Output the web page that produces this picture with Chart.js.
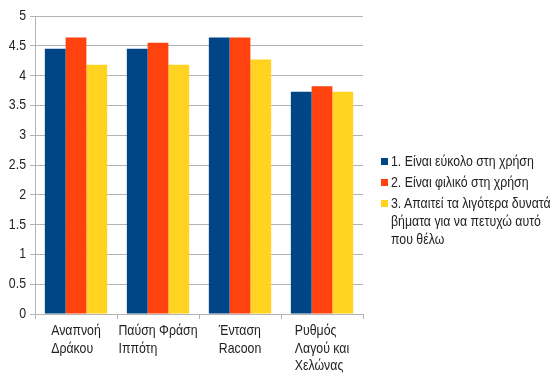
<!DOCTYPE html>
<html>
<head>
<meta charset="utf-8">
<script src="https://cdn.jsdelivr.net/npm/chart.js@4/dist/chart.umd.min.js"></script>
<style>
html,body{margin:0;padding:0;background:#fff;overflow:hidden;}
#wrap{position:relative;width:556px;height:376px;overflow:hidden;}
#legend{position:absolute;left:381px;top:152px;font-family:"Liberation Sans",Arial,sans-serif;font-size:14.5px;color:#222;white-space:nowrap;}
.item{position:relative;padding-left:10px;line-height:18px;margin-bottom:3px;}
.txt{display:inline-block;transform:scaleX(0.85);transform-origin:0 0;}
.sw{position:absolute;left:0;top:6px;width:7px;height:7px;}
</style>
</head>
<body>
<div id="wrap">
<canvas id="c" width="556" height="376"></canvas>
<div id="legend"></div>
</div>
<script>
const categories = [["Αναπνοή","Δράκου"],["Παύση Φράση","Ιππότη"],["Ένταση","Racoon"],["Ρυθμός","Λαγού και","Χελώνας"]];
const seriesNames = [["1. Είναι εύκολο στη χρήση"],["2. Είναι φιλικό στη χρήση"],["3. Απαιτεί τα λιγότερα δυνατά","βήματα για να πετυχώ αυτό","που θέλω"]];
const series1 = [4.45, 4.45, 4.64, 3.73];
const series2 = [4.64, 4.55, 4.64, 3.82];
const series3 = [4.18, 4.18, 4.27, 3.73];
const colors = ["#004586","#ff420e","#ffd320"];
const yTicks = [0,0.5,1,1.5,2,2.5,3,3.5,4,4.5,5];

const FONT = '"Liberation Sans", Arial, sans-serif';
const FSIZE = 14.5, SX = 0.85;
const grid = '#b3b3b3';

const textPlugin = {
  id:'axisText',
  afterDraw(chart){
    const ctx = chart.ctx, xs = chart.scales.x, ys = chart.scales.y;
    ctx.save();
    ctx.font = FSIZE + 'px ' + FONT;
    ctx.fillStyle = '#222';
    // x category labels: left-aligned block centred on the category
    ctx.textBaseline = 'top';
    ctx.textAlign = 'left';
    categories.forEach((lines,i)=>{
      const w = Math.max(...lines.map(l=>ctx.measureText(l).width)) * SX;
      const x0 = xs.getPixelForValue(i) - w/2;
      lines.forEach((l,k)=>{
        ctx.save();
        ctx.translate(x0, xs.top + 10 + k*17.5);
        ctx.scale(SX,1);
        ctx.fillText(l, 0, 0);
        ctx.restore();
      });
    });
    // y tick labels
    ctx.textBaseline = 'middle';
    ctx.textAlign = 'right';
    ys.ticks.forEach(t=>{
      ctx.save();
      ctx.translate(ys.right - 9, ys.getPixelForValue(t.value));
      ctx.scale(SX,1);
      ctx.fillText(String(t.value), 0, 0);
      ctx.restore();
    });
    ctx.restore();
  }
};

const chart = new Chart(document.getElementById('c'), {
  type:'bar',
  data:{
    labels: categories.map(c=>c.join(' ')),
    datasets:[series1,series2,series3].map((d,i)=>({
      label: seriesNames[i].join(' '),
      data: d,
      backgroundColor: colors[i],
      borderWidth:0,
      categoryPercentage:0.76,
      barPercentage:1.0
    }))
  },
  options:{
    responsive:false,
    animation:false,
    layout:{padding:{top:16,right:193,left:0,bottom:0}},
    plugins:{legend:{display:false},tooltip:{enabled:false}},
    scales:{
      x:{
        grid:{
          offset:true,
          drawOnChartArea:true,
          color:(c)=> c.index===categories.length ? grid : 'rgba(0,0,0,0)',
          tickColor:grid,
          tickLength:5,
          lineWidth:1
        },
        border:{display:false},
        ticks:{display:false},
        afterFit(s){ s.height = 62; }
      },
      y:{
        min:0,max:5,
        afterBuildTicks(s){ s.ticks = yTicks.map(v=>({value:v})); },
        grid:{color:grid,tickColor:grid,tickLength:5,lineWidth:1},
        border:{display:true,color:grid,width:1},
        ticks:{display:false},
        afterFit(s){ s.width = 35; }
      }
    }
  },
  plugins:[textPlugin]
});

const lg = document.getElementById('legend');
seriesNames.forEach((lines,i)=>{
  const d = document.createElement('div');
  d.className='item';
  const sw = document.createElement('span');
  sw.className='sw'; sw.style.background=colors[i];
  d.appendChild(sw);
  const t = document.createElement('span');
  t.className='txt';
  lines.forEach((l,k)=>{
    if(k>0) t.appendChild(document.createElement('br'));
    t.appendChild(document.createTextNode(l));
  });
  d.appendChild(t);
  lg.appendChild(d);
});
</script>
</body>
</html>
